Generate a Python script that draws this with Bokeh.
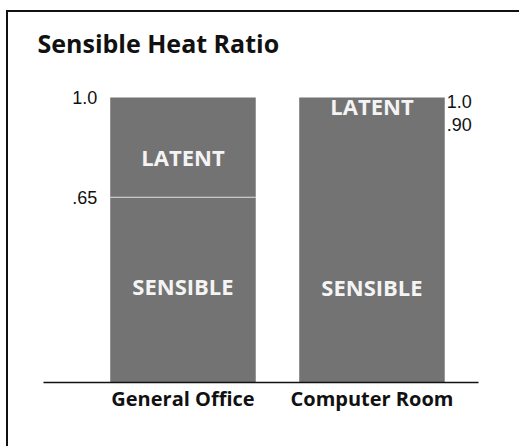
from bokeh.plotting import figure
from bokeh.models import ColumnDataSource, Range1d, FixedTicker
from bokeh.core.properties import value
from bokeh.transform import dodge
from bokeh.embed import file_html
from bokeh.resources import INLINE

# ---- data ----
categories = ["General Office", "Computer Room"]
sensible = [0.65, 0.90]
latent = [0.35, 0.10]
left_tick_values = [1.0, 0.65]
left_tick_labels = ["1.0", ".65"]
right_tick_values = [1.0, 0.90]
right_tick_labels = ["1.0", ".90"]
segment_names = ["SENSIBLE", "LATENT"]

# annotation anchors (value units) for in-bar captions
latent_caption_y = [0.79, 0.97]
sensible_caption_y = [0.34, 0.335]

BAR_W = 0.77
BAR_COLOR = "#737373"
FONT = "Open Sans"

xs = list(range(len(categories)))
totals = [s + l for s, l in zip(sensible, latent)]

p = figure(width=513, height=436, output_backend="svg", toolbar_location=None,
           x_range=Range1d(-0.738, 1.5636), y_range=Range1d(0, 1.10526),
           y_axis_location=None, min_border_left=35, min_border_right=43,
           min_border_top=55, min_border_bottom=66)
p.styles = {"margin-left": "6px", "margin-top": "10px",
            "border-left": "2px solid #111", "border-top": "2px solid #111"}
p.outline_line_color = None
p.xgrid.visible = False
p.ygrid.visible = False
p.background_fill_color = "white"
p.border_fill_color = "white"

p.title.text = "Sensible Heat Ratio"
p.title.text_font = FONT
p.title.text_font_size = "25px"
p.title.text_font_style = "bold"
p.title.text_color = "#111111"
p.title.align = "left"
p.title.offset = -6
p.title.standoff = 15

src = ColumnDataSource(dict(x=xs, sensible=sensible, latent=latent, total=totals,
                            sep_alpha=[0.9, 0.0],
                            lat_y=latent_caption_y, sen_y=sensible_caption_y,
                            lat_txt=[segment_names[1]] * len(xs),
                            sen_txt=[segment_names[0]] * len(xs)))

p.vbar(x="x", width=BAR_W, bottom=0, top="sensible", source=src,
       fill_color=BAR_COLOR, line_color=None)
p.vbar(x="x", width=BAR_W, bottom="sensible", top="total", source=src,
       fill_color=BAR_COLOR, line_color=None)

p.segment(x0=dodge("x", -BAR_W / 2), x1=dodge("x", BAR_W / 2), y0="sensible", y1="sensible",
          source=src, line_color="#e6e6e6", line_width=1, line_alpha="sep_alpha")

p.text(x="x", y="lat_y", text="lat_txt", source=src, text_align="center",
       text_baseline="middle", text_font=value(FONT), text_font_style="bold",
       text_font_size="22px", text_color="#f4f4f4")
p.text(x="x", y="sen_y", text="sen_txt", source=src, text_align="center",
       text_baseline="middle", text_font=value(FONT), text_font_style="bold",
       text_font_size="22px", text_color="#f4f4f4")

lsrc = ColumnDataSource(dict(x=[xs[0] - BAR_W / 2] * len(left_tick_values),
                             y=left_tick_values, t=left_tick_labels))
p.text(x="x", y="y", text="t", source=lsrc, x_offset=-13, text_align="right",
       text_baseline="middle", text_font=value("Liberation Sans"),
       text_font_size="18px", text_color="#111111")
rsrc = ColumnDataSource(dict(x=[xs[1] + BAR_W / 2] * len(right_tick_values),
                             y=right_tick_values, t=right_tick_labels,
                             yo=[4, -1]))
p.text(x="x", y="y", text="t", source=rsrc, x_offset=2, y_offset="yo", text_align="left",
       text_baseline="middle", text_font=value("Liberation Sans"),
       text_font_size="18px", text_color="#111111")

ax = p.xaxis[0]
ax.ticker = FixedTicker(ticks=xs)
ax.major_label_overrides = {i: c for i, c in zip(xs, categories)}
ax.axis_line_color = "#111111"
ax.axis_line_width = 1.5
ax.major_tick_line_color = None
ax.minor_tick_line_color = None
ax.major_label_text_font = FONT
ax.major_label_text_font_style = "bold"
ax.major_label_text_font_size = "20px"
ax.major_label_text_color = "#111111"
ax.major_label_standoff = -4

open("out.html", "w").write(file_html(p, INLINE))
